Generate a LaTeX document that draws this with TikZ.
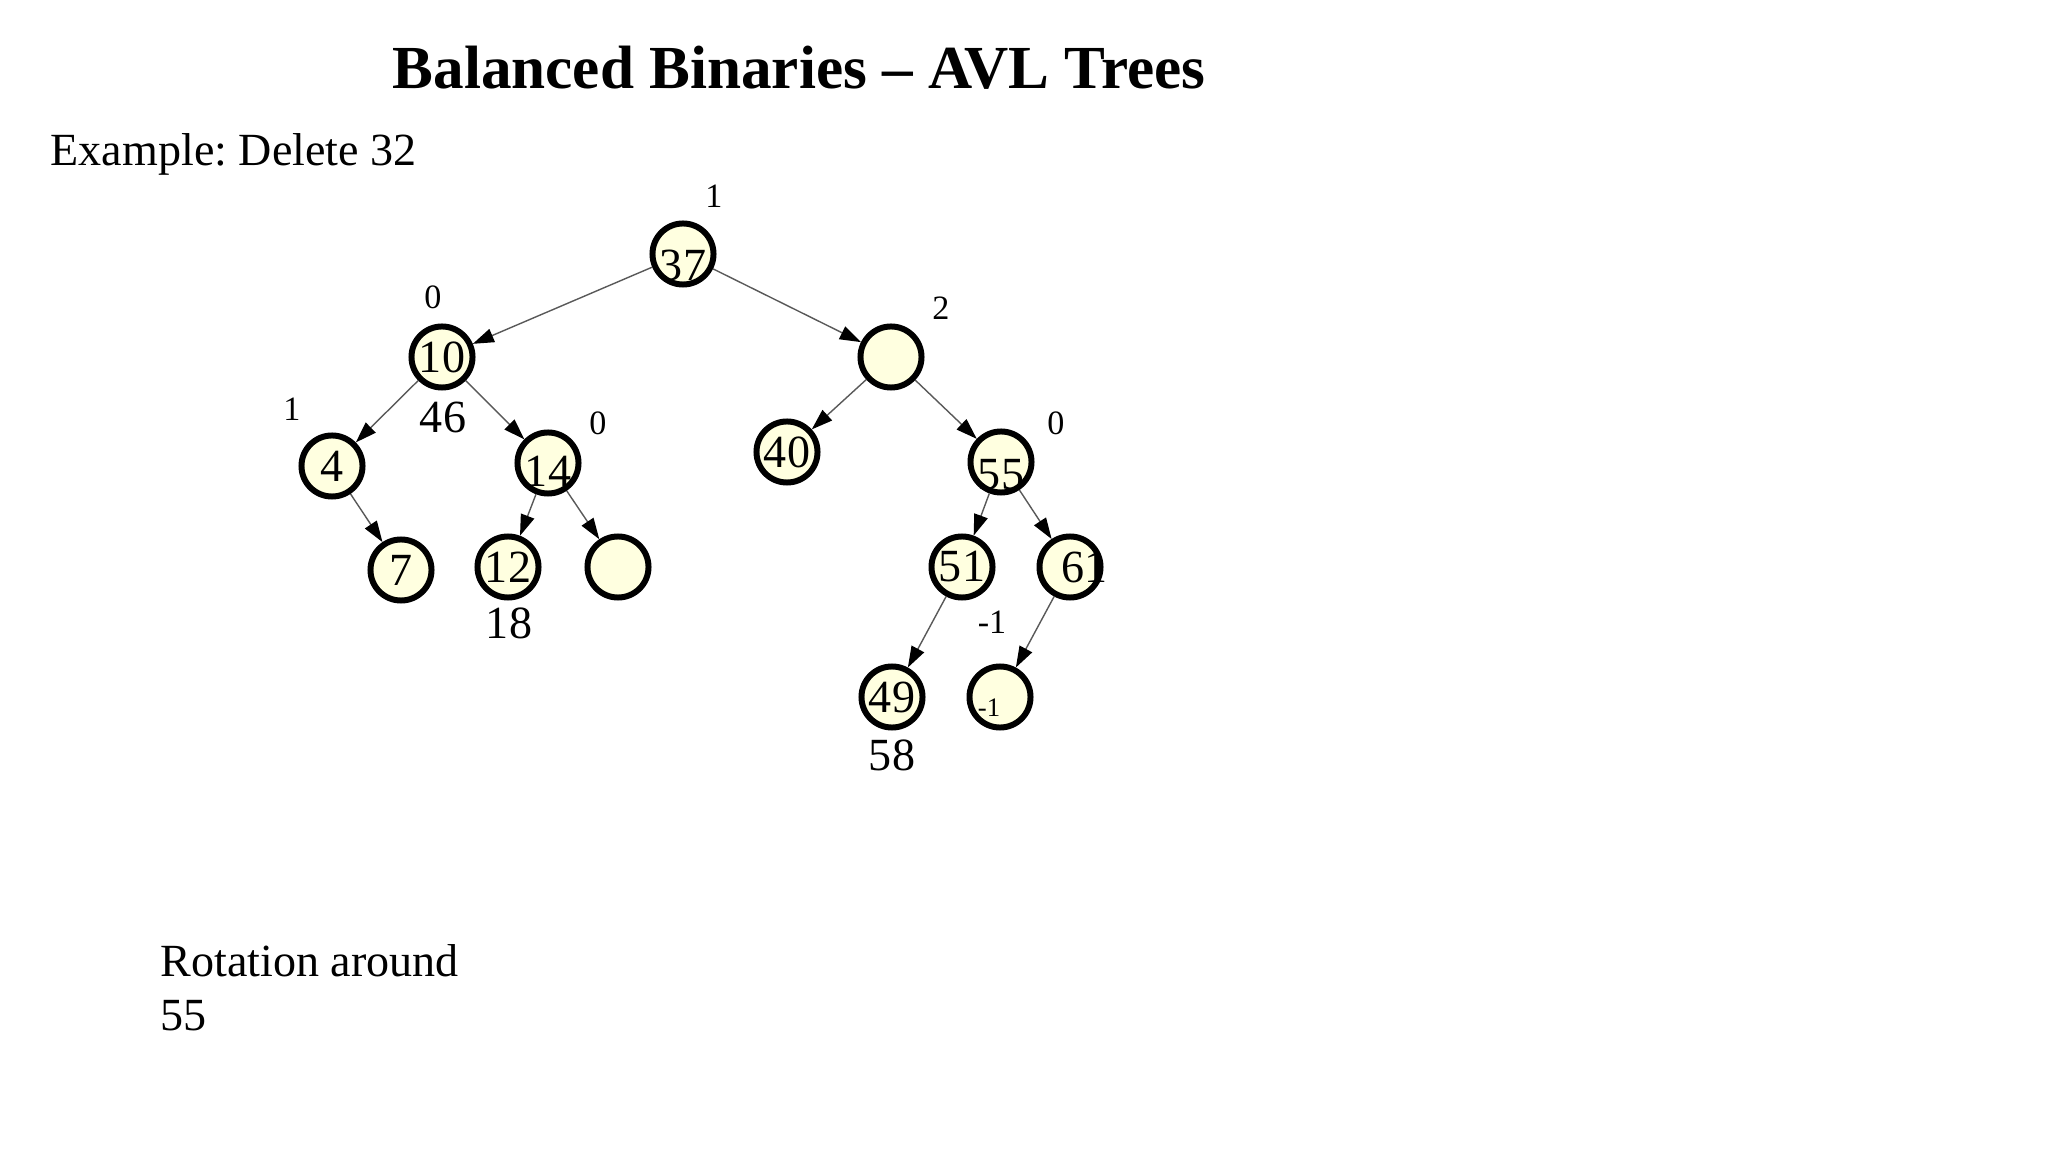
\documentclass[tikz,border=0pt]{standalone}
\usepackage{fontspec}
\setmainfont{Liberation Serif}
\usetikzlibrary{arrows.meta}
\definecolor{nodefill}{RGB}{255,255,224}
\frenchspacing

\begin{document}
\begin{tikzpicture}[x=0.01cm, y=-0.01cm,
                    avl/.style={circle, draw, line width=1.7pt, fill=nodefill, minimum size=0.61cm, inner sep=0pt, font=\fontsize{13.1}{15}\selectfont},
                    bal/.style={inner sep=0pt, font=\fontsize{9.7}{11}\selectfont},
                    txt/.style={inner sep=0pt, font=\fontsize{13.1}{15.1}\selectfont},
                    link/.style={draw=black!65, line width=0.4pt, -{Triangle[length=6pt, width=4pt, color=black]}}]
                    \useasboundingbox (0,0) rectangle (2048,1152);
                    
                    \node[inner sep=0pt, anchor=base, font=\bfseries\fontsize{17.4}{20}\selectfont] (title) at (799,89) {Balanced Binaries \textendash{} AVL Trees};
                    \node[txt, anchor=base west] (example) at (50,166) {Example: Delete 32};
                    
                    % the tree
                    \node[avl] (n37) at (683,254) {\raisebox{-0.58em}[0pt][0pt]{37}};
                    \node[avl] (n10) at (442,357) {10};
                    \node[avl] (e1) at (891,357) {};
                    \node[avl] (n4) at (332,466) {4};
                    \node[avl] (n14) at (548,463) {\raisebox{-0.51em}[0pt][0pt]{14}};
                    \node[avl] (n40) at (787,452) {40};
                    \node[avl] (n55) at (1001,462) {\raisebox{-0.6em}[0pt][0pt]{55}};
                    \node[avl] (n7) at (401,570) {7};
                    \node[avl] (n12) at (508,567) {12};
                    \node[avl] (e2) at (618,567) {};
                    \node[avl] (n51) at (962,567) {51};
                    \node[avl] (n61) at (1070,567) {\makebox[0pt]{\hspace*{8pt}61}};
                    \node[avl] (n49) at (892,697) {49};
                    \node[avl] (e3) at (1000,697) {};
                    
                    \draw[link] (n37) -- (n10);
                    \draw[link] (n37) -- (e1);
                    \draw[link] (n10) -- (n4);
                    \draw[link] (n10) -- (n14);
                    \draw[link] (n4) -- (n7);
                    \draw[link] (n14) -- (n12);
                    \draw[link] (n14) -- (e2);
                    \draw[link] (e1) -- (n40);
                    \draw[link] (e1) -- (n55);
                    \draw[link] (n55) -- (n51);
                    \draw[link] (n55) -- (n61);
                    \draw[link] (n51) -- (n49);
                    \draw[link] (n61) -- (e3);
                    
                    % balance factors
                    \node[bal] (b37) at (714,196) {1};
                    \node[bal] (b10) at (433,297) {0};
                    \node[bal] (be1) at (941,308) {2};
                    \node[bal] (b4) at (292,409) {1};
                    \node[bal] (b14) at (598,423) {0};
                    \node[bal] (b55) at (1056,423) {0};
                    \node[bal] (b51) at (992,622) {-1};
                    \node[bal, font=\fontsize{7.6}{9}\selectfont] (be3) at (989,708) {-1};
                    
                    \node[txt] (v46) at (443,417) {46};
                    \node[txt] (v18) at (509,623) {18};
                    \node[txt] (v58) at (892,755) {58};
                    
                    \node[txt, anchor=base west, align=left] (rot) at (160,1030) {Rotation around\\55};
                \end{tikzpicture}
\end{document}
